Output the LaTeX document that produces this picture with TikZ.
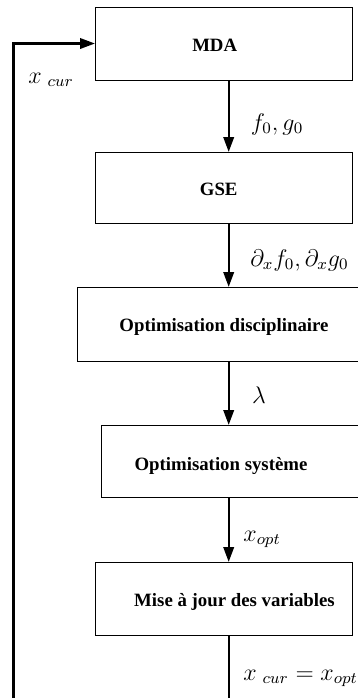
\documentclass[tikz,border=0pt]{standalone}
\usepackage{fontspec}
\setmainfont{Liberation Serif}
\usetikzlibrary{arrows.meta}
\begin{document}
\begin{tikzpicture}[x=0.5pt,y=-0.5pt,
  box/.style={draw, line width=0.45pt, inner sep=0pt, outer sep=0pt},
  lbl/.style={font=\bfseries\fontsize{9.4}{11}\selectfont, anchor=base, inner sep=0pt},
  mlbl/.style={font=\fontsize{11.5}{13}\selectfont, anchor=base west, inner sep=0pt},
  flow/.style={line width=1.2pt, -{Triangle[length=7.5pt,width=5.2pt]}}]
\useasboundingbox (0,0) rectangle (358,698);
\clip (0,0) rectangle (358,698);
\coordinate (ax) at (228.7,0);
\coordinate (lx) at (13.3,0);
% boxes
\node[box, minimum width=128.5pt, minimum height=36.5pt] (mda) at (223.5,43.5) {};
\node[box, minimum width=128.5pt, minimum height=35.5pt] (gse) at (223.5,187.5) {};
\node[box, minimum width=147pt, minimum height=37pt] (disc) at (224,324) {};
\node[box, minimum width=134.15pt, minimum height=36.35pt] (sys) at (235.85,461.35) {};
\node[box, minimum width=128.5pt, minimum height=36.5pt] (maj) at (223.5,598.5) {};
% box texts
\node[lbl] (tmda) at (214.7,51.7) {MDA};
\node[lbl] (tgse) at (218.7,195) {GSE};
\node[lbl] (tdisc) at (224,331.7) {Optimisation disciplinaire};
\node[lbl] (tsys) at (221,470) {Optimisation système};
\node[lbl] (tmaj) at (234.5,606.7) {Mise à jour des variables};
% connectors
\draw[flow] (mda.south -| ax) -- (gse.north -| ax);
\draw[flow] (gse.south -| ax) -- (disc.north -| ax);
\draw[flow] (disc.south -| ax) -- (sys.north -| ax);
\draw[flow] (sys.south -| ax) -- (maj.north -| ax);
\coordinate (bot) at (228.7,760);
\draw[flow] (maj.south -| ax) -- (bot) -- (bot -| lx) |- (mda.west);
% connector labels
\node[mlbl] (l1) at (250.5,130) {$f_0, g_0$};
\node[mlbl] (l2) at (250,266) {$\partial_x f_0, \partial_x g_0$};
\node[mlbl] (l3) at (251.7,403) {$\lambda$};
\node[mlbl] (l4) at (243,541) {$x_{opt}$};
\node[mlbl] (l5) at (243,680) {$x\ {}_{cur} = x_{opt}$};
\node[mlbl] (l6) at (28,83) {$x\ {}_{cur}$};
\end{tikzpicture}
\end{document}
